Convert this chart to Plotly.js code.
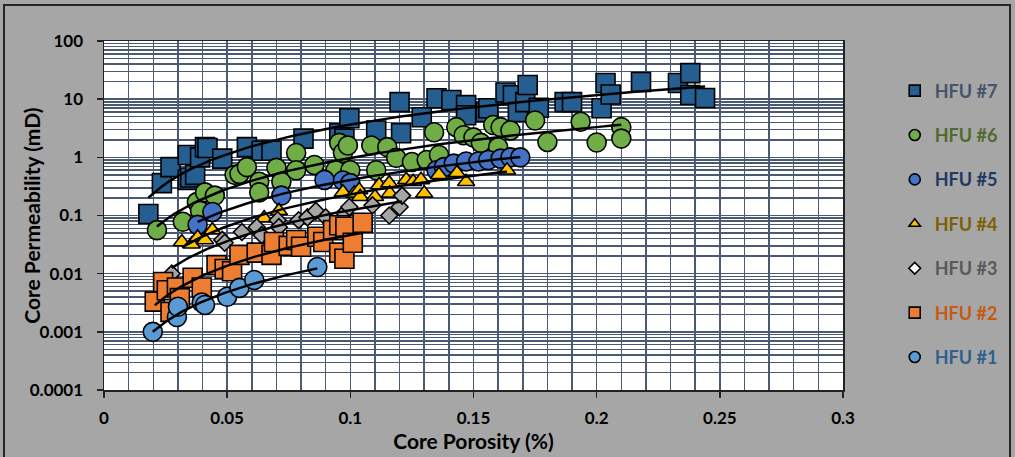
<!DOCTYPE html>
<html><head><meta charset="utf-8">
<script src="https://cdn.plot.ly/plotly-3.0.1.min.js"></script>
<style>
html,body{margin:0;padding:0;background:#fff;}
#wrap{position:relative;width:1015px;height:457px;overflow:hidden;}
#chart{width:1015px;height:457px;}
#frame{position:absolute;left:3px;top:4px;right:4px;bottom:-2px;border:2px solid #262626;pointer-events:none;}
</style></head><body>
<div id="wrap"><div id="chart"></div><div id="frame"></div></div>
<script>
// ---- data (porosity fraction, permeability mD) ----
const seriesNames = ["HFU #7","HFU #6","HFU #5","HFU #4","HFU #3","HFU #2","HFU #1"];

const phi7 = [0.018,0.0235,0.027,0.034,0.034,0.035,0.037,0.039,0.041,0.042,0.048,0.058,0.064,0.068,0.081,0.0955,0.0976,0.0996,0.1105,0.12,0.1206,0.129,0.135,0.141,0.147,0.147,0.155,0.156,0.163,0.166,0.168,0.171,0.172,0.1765,0.187,0.19,0.202,0.2036,0.2057,0.218,0.233,0.238,0.238,0.244];
const k7   = [0.106,0.36,0.68,0.41,1.1,0.45,0.5,1.0,1.5,1.45,0.95,1.5,1.3,1.3,2.1,2.6,2.1,4.7,2.9,8.9,2.6,4.9,10.4,9.7,7.9,5.3,6.0,7.0,13,11.7,6.0,8.9,17.5,7.1,8.9,8.9,7.0,19,12,19.7,19,28,11.8,10.5];

const phi6 = [0.0215,0.032,0.0377,0.039,0.041,0.045,0.053,0.055,0.058,0.063,0.063,0.07,0.072,0.078,0.078,0.0854,0.094,0.0955,0.097,0.099,0.1,0.1085,0.1105,0.115,0.1186,0.125,0.131,0.134,0.136,0.143,0.146,0.15,0.153,0.158,0.16,0.161,0.165,0.175,0.18,0.1935,0.2,0.21,0.21];
const k6   = [0.056,0.078,0.17,0.12,0.25,0.22,0.5,0.52,0.68,0.38,0.25,0.66,0.38,1.19,0.6,0.74,0.6,1.77,1.2,1.6,0.6,1.6,0.6,1.5,0.98,0.83,0.9,2.7,1.1,3.3,2.4,2.2,1.77,3.6,1.5,3.3,2.9,4.3,1.84,4.1,1.8,3.3,2.1];

const phi5 = [0.038,0.044,0.072,0.0895,0.097,0.1,0.135,0.138,0.142,0.147,0.152,0.156,0.161,0.165,0.169];
const k5   = [0.069,0.115,0.22,0.41,0.40,0.36,0.6,0.68,0.78,0.85,0.85,0.9,0.95,1.0,1.0];

const phi4 = [0.0316,0.0356,0.038,0.041,0.044,0.065,0.071,0.097,0.1016,0.1036,0.104,0.11,0.1117,0.1158,0.116,0.1227,0.1255,0.1287,0.13,0.136,0.1433,0.147,0.1636];
const k4   = [0.035,0.032,0.042,0.038,0.056,0.09,0.12,0.25,0.24,0.275,0.21,0.21,0.335,0.36,0.24,0.41,0.38,0.41,0.24,0.5,0.54,0.38,0.6];

const phi3 = [0.0275,0.048,0.049,0.056,0.062,0.064,0.0705,0.071,0.079,0.0826,0.086,0.09,0.0976,0.0996,0.109,0.1158,0.12,0.121];
const k3   = [0.010,0.038,0.034,0.052,0.063,0.046,0.083,0.063,0.083,0.093,0.12,0.093,0.11,0.14,0.15,0.10,0.14,0.22];

const phi2 = [0.0206,0.024,0.0255,0.027,0.0296,0.0308,0.036,0.0397,0.0457,0.049,0.052,0.055,0.062,0.068,0.069,0.075,0.078,0.08,0.0866,0.089,0.093,0.0955,0.0955,0.0976,0.098,0.101,0.105];
const k2   = [0.0033,0.0072,0.0052,0.0022,0.0058,0.0038,0.0085,0.0058,0.014,0.012,0.011,0.021,0.023,0.021,0.035,0.03,0.038,0.029,0.043,0.035,0.056,0.023,0.068,0.018,0.064,0.034,0.075];

const phi1 = [0.0198,0.0296,0.030,0.0397,0.041,0.050,0.055,0.061,0.0866];
const k1   = [0.001,0.0018,0.0027,0.0032,0.0029,0.004,0.0057,0.0078,0.013];

const xTickVals = [0,0.05,0.1,0.15,0.2,0.25,0.3];
const xTickText = ["0","0.05","0.1","0.15","0.2","0.25","0.3"];
const yTickVals = [0.0001,0.001,0.01,0.1,1,10,100];
const yTickText = ["0.0001","0.001","0.01","0.1","1","10","100"];

// ---- styling ----
const fills   = ["#255E91","#70AD47","#4472C4","#FFC000","#A5A5A5","#ED7D31","#5B9BD5"];
const legFill = ["#255E91","#70AD47","#4472C4","#FFC000","#FFFFFF","#ED7D31","#5B9BD5"];
const txtCol  = ["#44546A","#4E6B2D","#203864","#7F6000","#595959","#C55A11","#2E5F8F"];
const symbols = ["square","circle","circle","triangle-up","diamond","square","circle"];
const sizes   = [19,19,19,15,13,19,19];
const legSizes= [11,11,11,10,9,11,11];

const series = [[phi7,k7],[phi6,k6],[phi5,k5],[phi4,k4],[phi3,k3],[phi2,k2],[phi1,k1]];

function powerFit(xs, ys){
  let n=xs.length, sx=0, sy=0, sxx=0, sxy=0;
  for(let i=0;i<n;i++){const lx=Math.log(xs[i]), ly=Math.log(ys[i]); sx+=lx; sy+=ly; sxx+=lx*lx; sxy+=lx*ly;}
  const b=(n*sxy-sx*sy)/(n*sxx-sx*sx); const a=Math.exp((sy-b*sx)/n);
  const x0=Math.min(...xs), x1=Math.max(...xs); const fx=[], fy=[];
  for(let i=0;i<=80;i++){const x=x0+(x1-x0)*i/80; fx.push(x); fy.push(a*Math.pow(x,b));}
  return [fx,fy];
}

const traces = [];
series.forEach((s,i)=>{
  traces.push({type:'scatter', mode:'markers', x:s[0], y:s[1], name:seriesNames[i], showlegend:false,
    marker:{symbol:symbols[i], size:sizes[i], color:fills[i], line:{color:'#000', width:1.6}}, hoverinfo:'x+y+name'});
});
series.forEach((s,i)=>{
  const f = powerFit(s[0], s[1]);
  traces.push({type:'scatter', mode:'lines', x:f[0], y:f[1], showlegend:false, hoverinfo:'skip',
    line:{color:'#000', width:2.5}});
});
series.forEach((s,i)=>{
  traces.push({type:'scatter', mode:'markers', x:[null], y:[null], legendgroup:'g'+i,
    name:'<span style="color:'+txtCol[i]+'">'+seriesNames[i]+'</span>',
    marker:{symbol:symbols[i], size:legSizes[i], color:legFill[i], line:{color:'#000', width:1.6}}});
});

const gridCol = '#4A5A72';
const yMinor = [];
for(let e=-4;e<2;e++){for(let d=2;d<=9;d++){yMinor.push(d*Math.pow(10,e));}}

const layout = {
  width:1015, height:457,
  paper_bgcolor:'#A6A6A6', plot_bgcolor:'#FFFFFF',
  margin:{l:104, r:170, t:41, b:67},
  showlegend:true,
  font:{family:'Lato, "Open Sans", sans-serif', color:'#000'},
  xaxis:{range:[0,0.3], tickmode:'array', tickvals:xTickVals, ticktext:xTickText,
    showgrid:true, gridcolor:gridCol, gridwidth:1.5,
    minor:{dtick:0.01, tick0:0, showgrid:true, gridcolor:gridCol, gridwidth:1.5},
    showline:true, linecolor:'#222', linewidth:1.5, mirror:true,
    ticks:'outside', ticklen:6, tickwidth:1.5, tickcolor:'#222', ticklabelstandoff:6,
    tickfont:{size:17, weight:'bold', color:'#000'}, zeroline:false,
    title:{text:'Core Porosity (%)', font:{size:21, weight:'bold', color:'#000'}, standoff:6}},
  yaxis:{type:'log', range:[-4,2], tickmode:'array', tickvals:yTickVals, ticktext:yTickText,
    showgrid:true, gridcolor:gridCol, gridwidth:1.5,
    minor:{tickmode:'array', tickvals:yMinor, showgrid:true, gridcolor:gridCol, gridwidth:1.5, ticks:''},
    showline:true, linecolor:'#222', linewidth:1.5, mirror:true,
    ticks:'outside', ticklen:6, tickwidth:1.5, tickcolor:'#222', ticklabelstandoff:10,
    tickfont:{size:17, weight:'bold', color:'#000'}, zeroline:false},
  legend:{x:1.07, xanchor:'left', y:0.91, yanchor:'top', bgcolor:'rgba(0,0,0,0)',
    font:{size:18, weight:'bold'}, tracegroupgap:18, itemclick:false},
  annotations:[{text:'Core Permeability (mD)', textangle:-90, xref:'paper', yref:'paper',
    x:-0.0985, y:0.5, xanchor:'center', yanchor:'middle', showarrow:false,
    font:{size:21, weight:'bold', color:'#000'}}]
};

Plotly.newPlot('chart', traces, layout, {displayModeBar:false, staticPlot:true});
</script>
</body></html>
